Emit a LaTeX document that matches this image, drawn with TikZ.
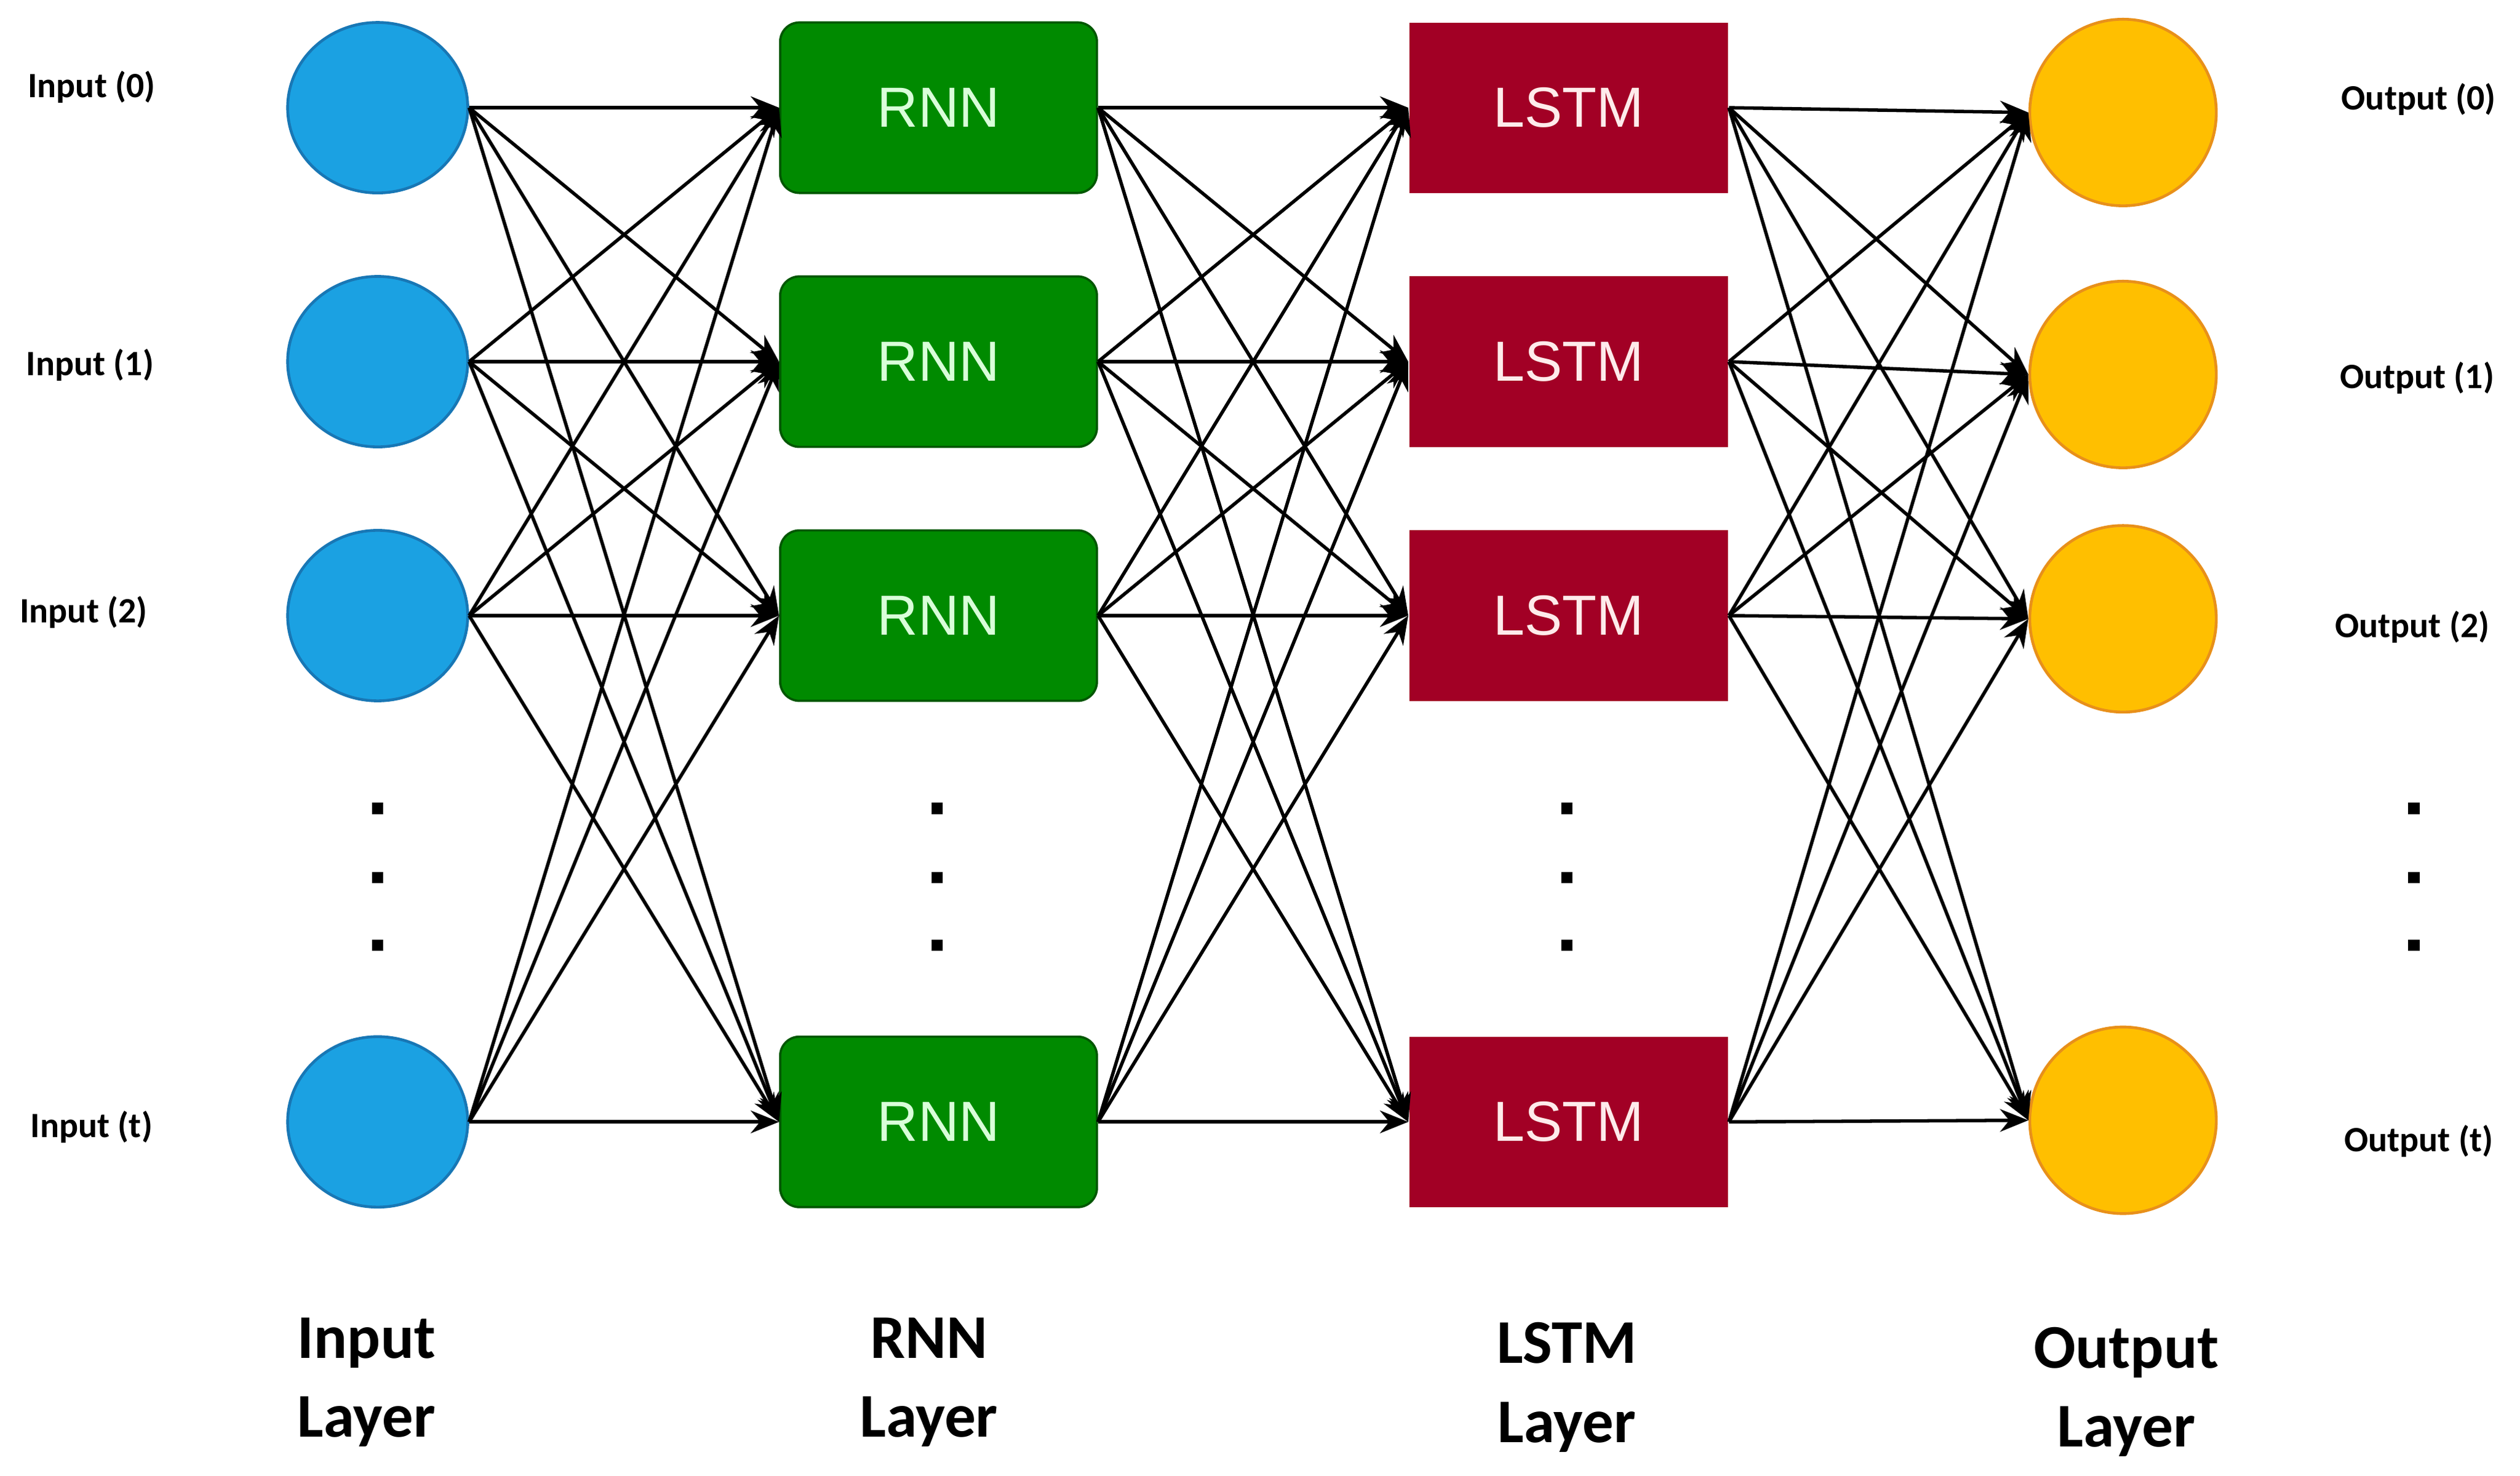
\documentclass[tikz,border=0pt]{standalone}
\usepackage{fontspec}
\setmainfont{Carlito}
\newfontfamily\arialf{Liberation Sans}
\usetikzlibrary{arrows.meta,shapes.geometric}
\definecolor{inblue}{HTML}{1BA1E2}
\definecolor{inblued}{HTML}{1877B5}
\definecolor{rnng}{HTML}{008A00}
\definecolor{rnngd}{HTML}{005700}
\definecolor{lstmr}{HTML}{A20025}
\definecolor{outo}{HTML}{FFBF00}
\definecolor{outod}{HTML}{E8901A}
\begin{document}
\begin{tikzpicture}[x=0.01cm,y=-0.01cm,
  inn/.style={ellipse,fill=inblue,draw=inblued,line width=0.5pt,minimum width=1.12cm,minimum height=1.06cm,inner sep=0pt},
  outn/.style={ellipse,fill=outo,draw=outod,line width=0.5pt,minimum width=1.16cm,minimum height=1.16cm,inner sep=0pt},
  rnn/.style={rectangle,rounded corners=0.12cm,fill=rnng,draw=rnngd,line width=0.4pt,minimum width=1.97cm,minimum height=1.06cm,text=green!15,font=\arialf\fontsize{10}{12}\selectfont},
  lstm/.style={rectangle,fill=lstmr,minimum width=1.98cm,minimum height=1.06cm,text=red!8,font=\arialf\fontsize{10}{12}\selectfont},
  lab/.style={font=\bfseries\fontsize{6.3}{7}\selectfont},
  big/.style={font=\bfseries\fontsize{11}{14}\selectfont,align=center},
  dot/.style={fill=black,minimum size=0.07cm,inner sep=0pt},
  e/.style={-{Stealth[length=5pt,width=4pt]},line width=0.6pt}]
\useasboundingbox (0,0) rectangle (1568,918);
\foreach \n/\y in {0/67,1/225,2/383,t/698}{
  \node[inn] (i\n) at (235,\y) {};
  \node[rnn] (r\n) at (584,\y) {RNN};
  \node[lstm] (l\n) at (976,\y) {LSTM};
}
\foreach \n/\y in {0/70,1/233,2/385,t/697}{ \node[outn] (o\n) at (1321,\y) {}; }
\node[lab] (li0) at (57,54) {Input (0)};
\node[lab] (li1) at (56,227) {Input (1)};
\node[lab] (li2) at (52,381) {Input (2)};
\node[lab] (lit) at (57,701) {Input (t)};
\node[lab] (lo0) at (1505,62) {Output (0)};
\node[lab] (lo1) at (1504,235) {Output (1)};
\node[lab] (lo2) at (1501,390) {Output (2)};
\node[lab] (lot) at (1505,710) {Output (t)};
\foreach \x/\k in {235/a,583/b,975/c,1502/d}{
  \foreach \y/\m in {503/1,546/2,588/3}{ \node[dot] (d\k\m) at (\x,\y) {}; }
}
\node[big] (L1) at (228,860) {Input\\Layer};
\node[big] (L2) at (578,860) {RNN\\Layer};
\node[big] (L3) at (975,863) {LSTM\\Layer};
\node[big] (L4) at (1323,866) {Output\\Layer};
\foreach \a in {0,1,2,t}{
  \foreach \b in {0,1,2,t}{
    \draw[e] (i\a.east) -- (r\b.west);
    \draw[e] (r\a.east) -- (l\b.west);
    \draw[e] (l\a.east) -- (o\b.west);
  }
}
\end{tikzpicture}
\end{document}
